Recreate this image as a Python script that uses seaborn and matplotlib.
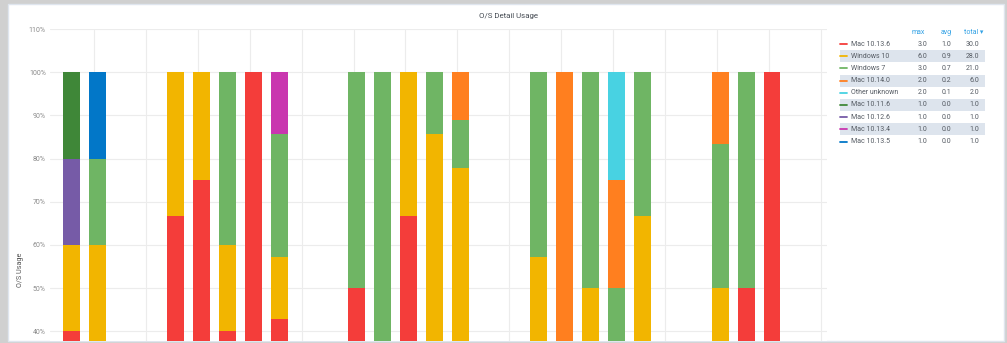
import numpy as np
import pandas as pd
import matplotlib
matplotlib.use("Agg")
import matplotlib.pyplot as plt
import seaborn as sns
from matplotlib.patches import Rectangle
from matplotlib.lines import Line2D

# ---------------- data ----------------
slots = [0, 1, 4, 5, 6, 7, 8, 11, 12, 13, 14, 15, 18, 19, 20, 21, 22, 25, 26, 27]

mac_10_13_6   = [40, 0, 66.7, 75, 40, 100, 42.9, 50, 0, 66.7, 0, 0, 0, 0, 0, 0, 0, 0, 50, 100]
windows_10    = [20, 60, 33.3, 25, 20, 0, 14.3, 0, 0, 33.3, 85.7, 77.8, 57.1, 0, 50, 0, 66.7, 50, 0, 0]
mac_10_12_6   = [20, 0, 0, 0, 0, 0, 0, 0, 0, 0, 0, 0, 0, 0, 0, 0, 0, 0, 0, 0]
windows_7     = [0, 20, 0, 0, 40, 0, 28.5, 50, 100, 0, 14.3, 11.1, 42.9, 0, 50, 50, 33.3, 33.3, 50, 0]
mac_10_14_0   = [0, 0, 0, 0, 0, 0, 0, 0, 0, 0, 0, 11.1, 0, 100, 0, 25, 0, 16.7, 0, 0]
other_unknown = [0, 0, 0, 0, 0, 0, 0, 0, 0, 0, 0, 0, 0, 0, 0, 25, 0, 0, 0, 0]
mac_10_11_6   = [20, 0, 0, 0, 0, 0, 0, 0, 0, 0, 0, 0, 0, 0, 0, 0, 0, 0, 0, 0]
mac_10_13_4   = [0, 0, 0, 0, 0, 0, 14.3, 0, 0, 0, 0, 0, 0, 0, 0, 0, 0, 0, 0, 0]
mac_10_13_5   = [0, 20, 0, 0, 0, 0, 0, 0, 0, 0, 0, 0, 0, 0, 0, 0, 0, 0, 0, 0]

legend_names = ["Mac 10.13.6", "Windows 10", "Windows 7", "Mac 10.14.0", "Other unknown",
                "Mac 10.11.6", "Mac 10.12.6", "Mac 10.13.4", "Mac 10.13.5"]
legend_max   = ["3.0", "6.0", "3.0", "2.0", "2.0", "1.0", "1.0", "1.0", "1.0"]
legend_avg   = ["1.0", "0.9", "0.7", "0.2", "0.1", "0.0", "0.0", "0.0", "0.0"]
legend_total = ["30.0", "28.0", "21.0", "6.0", "2.0", "1.0", "1.0", "1.0", "1.0"]

colors = {
    "Mac 10.13.6": "#F43D3A",
    "Windows 10": "#F2B500",
    "Windows 7": "#6FB564",
    "Mac 10.14.0": "#FF7F1F",
    "Other unknown": "#48D2E2",
    "Mac 10.11.6": "#3F8738",
    "Mac 10.12.6": "#765BA7",
    "Mac 10.13.4": "#C936AF",
    "Mac 10.13.5": "#0277C8",
}

# stacking order bottom -> top
stack = [
    ("Mac 10.13.6", mac_10_13_6),
    ("Windows 10", windows_10),
    ("Mac 10.12.6", mac_10_12_6),
    ("Windows 7", windows_7),
    ("Mac 10.14.0", mac_10_14_0),
    ("Other unknown", other_unknown),
    ("Mac 10.11.6", mac_10_11_6),
    ("Mac 10.13.4", mac_10_13_4),
    ("Mac 10.13.5", mac_10_13_5),
]

# ---------------- style ----------------
sns.set_theme(style="white")
plt.rcParams["font.family"] = ["Roboto", "DejaVu Sans"]

W, H = 1007, 343
fig = plt.figure(figsize=(W / 100, H / 100), dpi=100)
fig.patch.set_facecolor("#d0d0d0")

def fx(px):
    return px / W

def fy(py):
    return 1 - py / H

# panel
fig.patches.append(Rectangle((fx(8), fy(341)), fx(1004) - fx(8), fy(4) - fy(341),
                             transform=fig.transFigure, facecolor="white",
                             edgecolor="#dfe5ee", linewidth=1.0, zorder=-1))

ax_left, ax_right, ax_top, ax_bot = 50, 827, 29.1, 341
ax = fig.add_axes([fx(ax_left), fy(ax_bot), fx(ax_right) - fx(ax_left), fy(ax_top) - fy(ax_bot)])
ax.set_facecolor("white")

vals = np.array([v for _, v in stack], dtype=float)
cum = np.cumsum(vals, axis=0)

for i in range(len(stack) - 1, -1, -1):
    name, v = stack[i]
    heights = np.where(np.array(v) > 0, cum[i], np.nan)
    df = pd.DataFrame({"slot": slots, "pct": heights})
    sns.barplot(data=df, x="slot", y="pct", native_scale=True, color=colors[name],
                saturation=1, width=0.655, errorbar=None, linewidth=0, ax=ax, zorder=3)

ax.set_xlim(-0.83, 29.12)
ax.set_ylim(37.75, 110)
ax.set_yticks(np.arange(40, 111, 10))
ax.set_yticklabels([f"{t}%" for t in range(40, 111, 10)])
ax.set_xticks(np.arange(0.87, 29.2, 2))
ax.set_xticklabels([])
ax.grid(True, color="#ececec", linewidth=0.8, zorder=0)
ax.set_axisbelow(True)
ax.tick_params(axis="both", length=0, pad=3, labelsize=5, labelcolor="#8a8a8a")
for s in ax.spines.values():
    s.set_visible(False)
ax.set_xlabel("")
ax.set_ylabel("")

# title & y label
fig.text(fx(508), fy(16), "O/S Detail Usage", ha="center", va="center",
         fontsize=5.7, color="#464c54")
fig.text(fx(20), fy(270), "O/S Usage", ha="center", va="center", rotation=90,
         fontsize=5.2, color="#555555")

# legend
hdr_y = 33
row0, dy = 44, 12.2
head_col = "#33A2E5"
fig.text(fx(925), fy(hdr_y), "max", ha="right", va="center", fontsize=5, color=head_col)
fig.text(fx(952), fy(hdr_y), "avg", ha="right", va="center", fontsize=5, color=head_col)
fig.text(fx(983), fy(hdr_y), "total ▾", ha="right", va="center", fontsize=5, color=head_col,
         family=["Roboto", "DejaVu Sans"])
for i, name in enumerate(legend_names):
    y = row0 + dy * i
    if i % 2 == 1:
        fig.patches.append(Rectangle((fx(840), fy(y + 6)), fx(985) - fx(840), fy(y - 6) - fy(y + 6),
                                     transform=fig.transFigure, facecolor="#dde4ed",
                                     edgecolor="none", zorder=1))
    fig.lines.append(Line2D([fx(840), fx(847)], [fy(y), fy(y)], transform=fig.transFigure,
                            color=colors[name], linewidth=1.3, zorder=2))
    fig.text(fx(851), fy(y), name, ha="left", va="center", fontsize=5, color="#555b63", zorder=3)
    fig.text(fx(927), fy(y), legend_max[i], ha="right", va="center", fontsize=5, color="#555b63", zorder=3)
    fig.text(fx(951), fy(y), legend_avg[i], ha="right", va="center", fontsize=5, color="#555b63", zorder=3)
    fig.text(fx(979), fy(y), legend_total[i], ha="right", va="center", fontsize=5, color="#555b63", zorder=3)

fig.savefig("out.png", dpi=100, facecolor=fig.get_facecolor())
